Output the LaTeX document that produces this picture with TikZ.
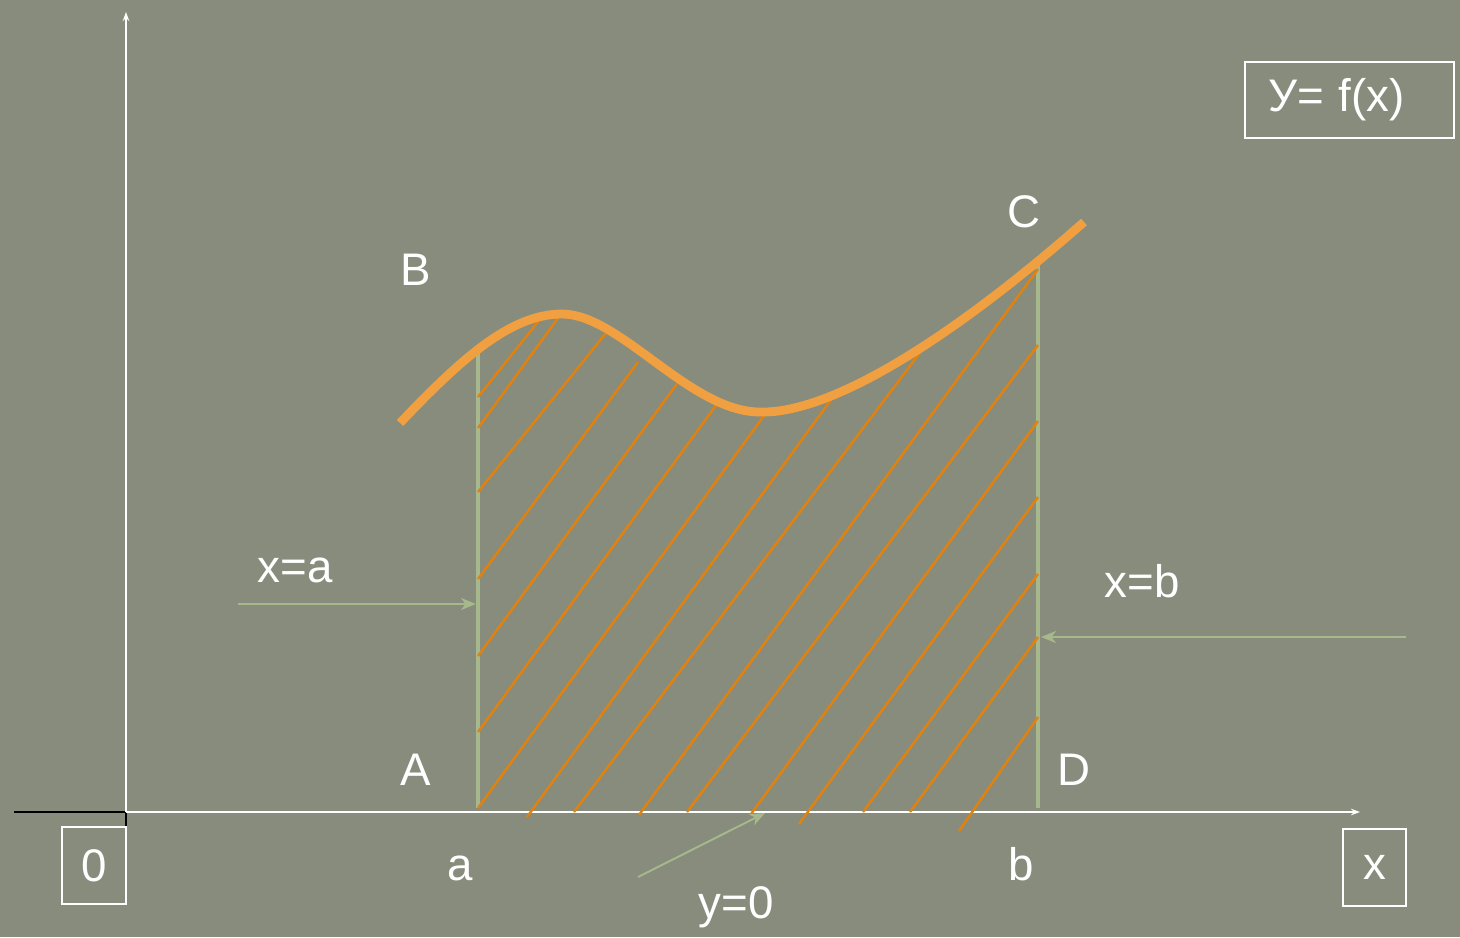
\documentclass[tikz,border=0pt]{standalone}
\usepackage{fontspec}
\setmainfont{Liberation Sans}
\usepackage{xcolor}
\usepackage{tikz}
\usetikzlibrary{arrows.meta}
\definecolor{fundo}{RGB}{136,140,125}
\definecolor{laranja}{RGB}{240,160,64}
\definecolor{laranjaEscuro}{RGB}{226,130,14}
\definecolor{verdeClaro}{RGB}{166,184,140}
\tikzset{
    rotulo/.style={
        text=white,
        inner sep=0pt,
        anchor=base,
        font=\fontsize{26}{30}\selectfont
    },
    caixa/.style={
        rotulo,
        anchor=center,
        draw=white,
        line width=1.1pt,
        minimum width=1.28cm,
        minimum height=1.54cm
    },
    eixo/.style={white, line width=1pt, -{Stealth[length=1.8mm, width=1.3mm]}},
    fronteira/.style={verdeClaro, line width=2.8pt},
    seta/.style={verdeClaro, line width=1.1pt, -{Stealth[length=3mm, width=2.4mm, inset=0.9mm]}},
    curva/.style={laranja, line width=5pt},
    hachura/.style={laranjaEscuro, line width=1.4pt}
}

\begin{document}
\begin{tikzpicture}[x=0.02cm, y=-0.02cm]
        \fill[fundo] (0,0) rectangle (1460,937);
        \useasboundingbox (0,0) rectangle (1460,937);
        % eixos
        \coordinate (origem) at (126,812);
        \coordinate (topoY) at (126,12);
        \coordinate (fimX) at (1360,812);
        \coordinate (esquerdaPreta) at (14,812);
        \coordinate (baixoPreto) at (126,877);
        \draw[black, line width=1.4pt] (esquerdaPreta) -- (origem) -- (baixoPreto);
        \draw[eixo] (origem) -- (topoY);
        \draw[eixo] (origem) -- (fimX);
        % retas x=a e x=b
        \coordinate (aTopo) at (478,345);
        \coordinate (aBase) at (478,808);
        \coordinate (bTopo) at (1038,258);
        \coordinate (bBase) at (1038,808);
        \draw[fronteira] (aBase) -- (aTopo);
        \draw[fronteira] (bBase) -- (bTopo);
        % hachuras
        \foreach \xa/\ya/\xb/\yb in {
            478/397/541/318, 478/428/561/314, 478/492/606/333,
            478/579/638/362, 478/656/679/381, 478/732/717/404,
            478/808/766/413, 527/817/833/397, 574/812/925/346,
            639/815/1038/269, 687/812/1038/345, 751/814/1038/421,
            799/824/1038/497, 863/812/1038/574, 910/812/1038/637,
            959/831/1038/717}
            \draw[hachura] (\xa,\ya) -- (\xb,\yb);
        % curva y=f(x)
        \coordinate (inicioCurva) at (400,423);
        \coordinate (pico) at (562,314);
        \coordinate (vale) at (760,412);
        \coordinate (fimCurva) at (1084,222);
        \draw[curva] (inicioCurva) .. controls (460,360) and (510,314) .. (pico)
            .. controls (620,314) and (690,412) .. (vale)
            .. controls (830,414) and (950,340) .. (fimCurva);
        % pontos
        \node[rotulo] (pontoB) at (416,285) {B};
        \node[rotulo] (pontoC) at (1024,227) {C};
        \node[rotulo] (pontoA) at (416,785) {A};
        \node[rotulo] (pontoD) at (1074,785) {D};
        \node[rotulo] (marcaA) at (460,880) {a};
        \node[rotulo] (marcaB) at (1021,880) {b};
        % equacoes das fronteiras
        \node[rotulo] (retaA) at (295,582) {x=a};
        \node[rotulo] (retaB) at (1142,597) {x=b};
        \node[rotulo] (retaY) at (736,918) {y=0};
        \coordinate (inicioA) at (238,604);
        \coordinate (alvoA) at (476,604);
        \coordinate (inicioB) at (1406,637);
        \coordinate (alvoB) at (1041,637);
        \coordinate (inicioY) at (638,877);
        \coordinate (alvoY) at (765,813);
        \draw[seta] (inicioA) -- (alvoA);
        \draw[seta] (inicioB) -- (alvoB);
        \draw[seta] (inicioY) -- (alvoY);
        % caixas
        \node[caixa] (zero) at (94,865.5) {0};
        \node[caixa, minimum width=1.26cm] (eixoX) at (1374.5,867.5) {x};
        \node[caixa, minimum height=1.52cm, inner xsep=0.46cm,
              text width=3.26cm, align=left] (funcao) at (1349.5,100)
            {У= f(x)};
    \end{tikzpicture}
\end{document}
